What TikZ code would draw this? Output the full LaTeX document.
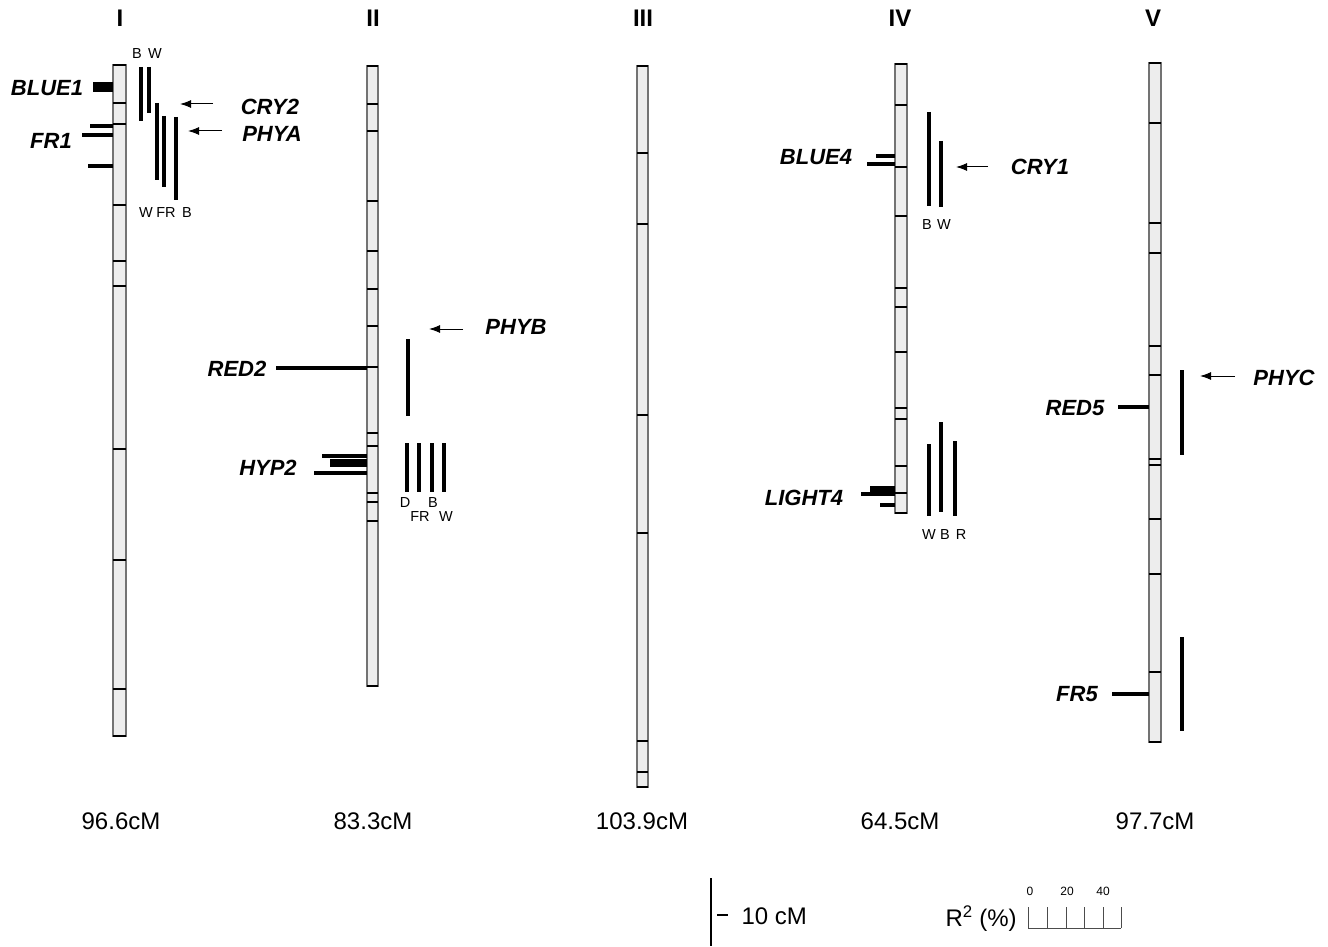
\documentclass[tikz,border=0pt]{standalone}
\usepackage{fontspec}
\setmainfont{Liberation Sans}
\usetikzlibrary{arrows.meta}
\newcommand\chrm[5]{%
  \fill[chromfill] (#1,#3) rectangle (#2,#4);
  \draw[chromedge] (#1,#3) rectangle (#2,#4);
  \foreach \t in {#3,#5,#4} {\draw[band] (#1,\t) -- (#2,\t);}
}
\begin{document}
\begin{tikzpicture}[x=1pt,y=-1pt,
  chromfill/.style={fill=black!7},
  chromedge/.style={draw=black!55,line width=1.3pt},
  band/.style={line width=1.8pt,line cap=butt},
  hbar/.style={line width=4.5pt,line cap=butt},
  vbar/.style={line width=3.4pt,line cap=butt},
  arr/.style={line width=1pt,-{Latex[length=11pt,width=8pt]}},
  numlab/.style={font=\fontsize{24}{28}\selectfont\bfseries},
  qtl/.style={font=\fontsize{22}{26}\selectfont\bfseries\itshape},
  small/.style={font=\fontsize{14.5}{17}\selectfont},
  cmlab/.style={font=\fontsize{24}{28}\selectfont},
]
\useasboundingbox (0,0) rectangle (1328,947);
\fill[white] (0,0) rectangle (1328,947);

% chromosome numerals
\node[numlab] (nI) at (120,18) {I};
\node[numlab] (nII) at (373,18) {II};
\node[numlab] (nIII) at (643,18) {III};
\node[numlab] (nIV) at (900,18) {IV};
\node[numlab] (nV) at (1153,18) {V};

% chromosomes
\chrm{113}{126}{65}{736}{103,124,205,261,286,449,560,689}
\chrm{367}{378}{66}{686}{104,131,201,251,289,326,367,433,446,493,502,521}
\chrm{637}{648}{66}{787}{153,224,415,533,741,772}
\chrm{895}{907}{64}{513}{105,167,216,288,307,352,408,419,466,493}
\chrm{1149}{1161}{63}{742}{123,223,253,346,375,459,465,519,574,672}

% lengths
\node[cmlab] (lI) at (121,821) {96.6cM};
\node[cmlab] (lII) at (373,821) {83.3cM};
\node[cmlab] (lIII) at (642,821) {103.9cM};
\node[cmlab] (lIV) at (900,821) {64.5cM};
\node[cmlab] (lV) at (1155,821) {97.7cM};

% ---- Chromosome I
\draw[line width=10pt,line cap=butt] (93,87) -- (113,87);
\draw[hbar] (90,126) -- (113,126);
\draw[hbar] (82,135) -- (113,135);
\draw[hbar] (88,166) -- (113,166);
\node[qtl] (blue1) at (47,88) {BLUE1};
\node[qtl] (fr1) at (51,141) {FR1};
\draw[vbar] (141,67) -- (141,121);
\draw[vbar] (149,67) -- (149,113);
\draw[vbar] (157,103) -- (157,180);
\draw[vbar] (164,116) -- (164,187);
\draw[vbar] (176,117) -- (176,200);
\node[small] (iB1) at (137,54) {B};
\node[small] (iW1) at (155,54) {W};
\node[small] (iW2) at (146,213) {W};
\node[small] (iFR) at (166,213) {FR};
\node[small] (iB2) at (187,213) {B};
\node[qtl] (cry2) at (270,107) {CRY2};
\node[qtl] (phya) at (272,134) {PHYA};
\coordinate (cry2t) at (213,104); \coordinate (cry2h) at (180,104);
\coordinate (phyat) at (222,131); \coordinate (phyah) at (188,131);
\draw[arr] (cry2t) -- (cry2h);
\draw[arr] (phyat) -- (phyah);

% ---- Chromosome II
\draw[hbar] (276,368) -- (367,368);
\draw[hbar] (322,456) -- (367,456);
\draw[line width=8pt,line cap=butt] (330,463) -- (367,463);
\draw[hbar] (314,473) -- (367,473);
\node[qtl] (red2) at (237,369) {RED2};
\node[qtl] (hyp2) at (268,468) {HYP2};
\draw[vbar] (408,339) -- (408,416);
\node[qtl] (phyb) at (516,327) {PHYB};
\coordinate (phybt) at (463,329); \coordinate (phybh) at (429,329);
\draw[arr] (phybt) -- (phybh);
\foreach \x in {407,419,432,444} {\draw[vbar] (\x,443) -- (\x,492);}
\node[small] (iiD) at (405,503) {D};
\node[small] (iiB) at (433,503) {B};
\node[small] (iiFR) at (420,517) {FR};
\node[small] (iiW) at (446,517) {W};

% ---- Chromosome IV
\draw[hbar] (876,156) -- (895,156);
\draw[hbar] (867,164) -- (895,164);
\node[qtl] (blue4) at (816,157) {BLUE4};
\draw[vbar] (929,112) -- (929,206);
\draw[vbar] (941,141) -- (941,207);
\node[small] (ivB) at (927,225) {B};
\node[small] (ivW) at (944,225) {W};
\node[qtl] (cry1) at (1040,167) {CRY1};
\coordinate (cry1t) at (988,167); \coordinate (cry1h) at (956,167);
\draw[arr] (cry1t) -- (cry1h);
\draw[line width=7pt,line cap=butt] (870,489) -- (895,489);
\draw[hbar] (861,494) -- (895,494);
\draw[hbar] (880,505) -- (895,505);
\node[qtl] (light4) at (804,498) {LIGHT4};
\draw[vbar] (929,444) -- (929,516);
\draw[vbar] (941,422) -- (941,512);
\draw[vbar] (955,441) -- (955,516);
\node[small] (ivW2) at (929,535) {W};
\node[small] (ivB2) at (945,535) {B};
\node[small] (ivR) at (961,535) {R};

% ---- Chromosome V
\draw[hbar] (1118,407) -- (1149,407);
\draw[hbar] (1112,694) -- (1149,694);
\node[qtl] (red5) at (1075,408) {RED5};
\node[qtl] (fr5) at (1077,694) {FR5};
\draw[vbar] (1182,370) -- (1182,455);
\draw[vbar] (1182,637) -- (1182,731);
\node[qtl] (phyc) at (1284,378) {PHYC};
\coordinate (phyct) at (1235,376); \coordinate (phych) at (1200,376);
\draw[arr] (phyct) -- (phych);

% ---- legend
\coordinate (sct) at (711,878); \coordinate (scb) at (711,946);
\draw[line width=2pt] (sct) -- (scb);
\draw[line width=1.1pt] (717,915) -- (728,915);
\node[cmlab,anchor=west] (tencm) at (738,916) {10 cM};
\node[cmlab,anchor=west] (r2) at (942,919) {R\textsuperscript{2} (\%)};
\draw[line width=0.8pt,black!70] (1028,928) -- (1121,928);
\foreach \x in {1028,1047,1066,1084,1103,1121} {\draw[line width=0.8pt,black!70] (\x,928) -- (\x,907);}
\node[font=\fontsize{12}{14}\selectfont] (r0) at (1030,891) {0};
\node[font=\fontsize{12}{14}\selectfont] (r20) at (1067,891) {20};
\node[font=\fontsize{12}{14}\selectfont] (r40) at (1103,891) {40};
\end{tikzpicture}
\end{document}
